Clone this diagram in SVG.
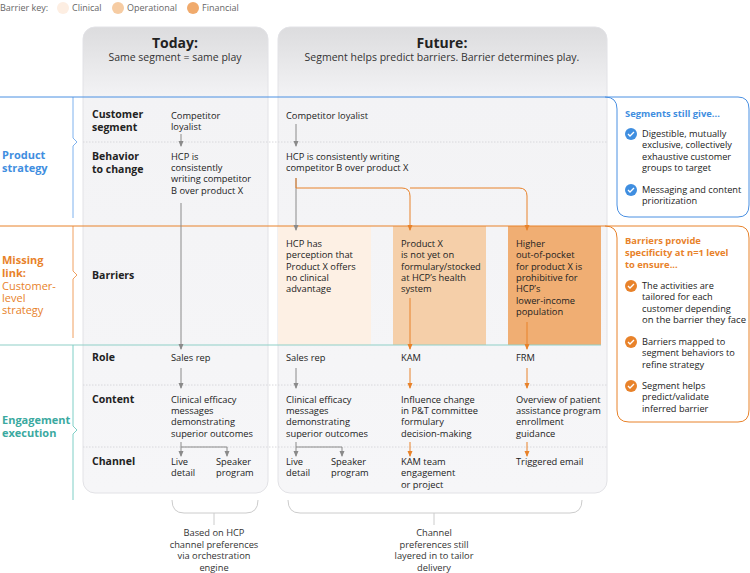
<svg xmlns="http://www.w3.org/2000/svg" width="750" height="573" viewBox="0 0 750 573">
<defs>
<linearGradient id="pg" x1="0" y1="0" x2="0" y2="1"><stop offset="0" stop-color="#dcdcde"/><stop offset="0.15" stop-color="#f3f3f5"/><stop offset="1" stop-color="#f6f6f8"/></linearGradient>
<marker id="g" markerWidth="6" markerHeight="6" refX="5" refY="3" orient="auto" markerUnits="userSpaceOnUse"><path d="M0,0.5 L6,3 L0,5.5 Z" fill="#8a8a8a"/></marker>
<marker id="o" markerWidth="6" markerHeight="6" refX="5" refY="3" orient="auto" markerUnits="userSpaceOnUse"><path d="M0,0.5 L6,3 L0,5.5 Z" fill="#e8822a"/></marker>
</defs>
<style>
text{font-family:"Open Sans","Noto Sans","Liberation Sans",sans-serif;font-size:9.3px;fill:#222}
.k{fill:#666;font-size:9px}
.h{font-weight:bold;font-size:14px;text-anchor:middle}
.s{font-size:10.5px;text-anchor:middle;fill:#333}
.rl{font-weight:bold;font-size:10.5px}
.gl{stroke:#8a8a8a;stroke-width:1;fill:none}
.ol{stroke:#e8822a;stroke-width:1;fill:none}
.dot{stroke:#d8d8dc;stroke-width:1;stroke-dasharray:1.5 1.5}
.c{text-anchor:middle;fill:#333}
.bl{fill:#3f8ee0;font-weight:bold;font-size:11px}
.or{fill:#e8822a;font-weight:bold;font-size:11px}
.orn{fill:#e8822a;font-size:11px}
.te{fill:#3aa9a0;font-weight:bold;font-size:11px}
.sd{font-size:9.2px}
.hd{font-size:9.4px}
</style>
<g id="key">
<text x="0" y="11" class="k">Barrier key:</text>
<circle cx="63" cy="8" r="6" fill="#fdeee2"/><text x="72" y="11" class="k">Clinical</text>
<circle cx="118" cy="8" r="6" fill="#f6cca3"/><text x="127" y="11" class="k">Operational</text>
<circle cx="193" cy="8" r="6" fill="#f0aa6c"/><text x="202" y="11" class="k">Financial</text>
</g>
<g id="panel-today">
<rect x="83" y="27" width="185" height="466" rx="12" fill="url(#pg)" stroke="#e2e2e6"/>
<text x="175" y="48" class="h">Today:</text>
<text x="175" y="61" class="s">Same segment = same play</text>
</g>
<g id="panel-future">
<rect x="278" y="27" width="329" height="466" rx="12" fill="url(#pg)" stroke="#e2e2e6"/>
<text x="442" y="48" class="h">Future:</text>
<text x="442" y="61" class="s">Segment helps predict barriers. Barrier determines play.</text>
</g>
<g id="barriers">
<rect x="278" y="226" width="93" height="119" fill="#fdf0e4"/>
<rect x="393" y="226" width="93" height="119" fill="#f5cfa9"/>
<rect x="508" y="226" width="93" height="119" fill="#f0ae73"/>
</g>
<g id="rows">
<line x1="83" y1="142" x2="607" y2="142" class="dot"/>
<line x1="83" y1="385" x2="607" y2="385" class="dot"/>
<line x1="83" y1="447" x2="607" y2="447" class="dot"/>
<line x1="0" y1="345" x2="601" y2="345" stroke="#8fd0c8" stroke-width="1.2"/>
<path d="M73,97 V138 L77,142 L73,146 V218" stroke="#7fb2ee" fill="none"/>
<path d="M73,226 V271 L77,275 L73,279 V338" stroke="#f0a060" fill="none"/>
<path d="M73,345 V426 L77,430 L73,434 V500" stroke="#7fcfc6" fill="none"/>
<text x="2" y="159" class="bl">Product</text><text x="2" y="172" class="bl">strategy</text>
<text x="2" y="264" class="or">Missing</text><text x="2" y="277" class="or">link:</text>
<text x="2" y="290" class="orn">Customer-</text><text x="2" y="302" class="orn">level</text><text x="2" y="314" class="orn">strategy</text>
<text x="2" y="424" class="te">Engagement</text><text x="2" y="437" class="te">execution</text>
<text x="92" y="118" class="rl">Customer</text><text x="92" y="131" class="rl">segment</text>
<text x="92" y="160" class="rl">Behavior</text><text x="92" y="173" class="rl">to change</text>
<text x="92" y="279" class="rl">Barriers</text>
<text x="92" y="361" class="rl">Role</text>
<text x="92" y="403" class="rl">Content</text>
<text x="92" y="465" class="rl">Channel</text>
</g>
<g id="side-blue">
<path d="M0,97 H605 Q617,97 617,109 V205 Q617,217 629,217 H738 Q749,217 749,205 V109 Q749,97 738,97 H605" stroke="#4a90e2" stroke-width="1" fill="none"/>
<text x="625" y="117" class="bl hd">Segments still give...</text>
<circle cx="631" cy="134" r="6" fill="#3f8ee0"/><path d="M628,134 l2,2 l4,-4" stroke="#fff" stroke-width="1.3" fill="none"/>
<text x="642" y="137" class="sd">Digestible, mutually</text><text x="642" y="148" class="sd">exclusive, collectively</text><text x="642" y="160" class="sd">exhaustive customer</text><text x="642" y="171" class="sd">groups to target</text>
<circle cx="631" cy="190" r="6" fill="#3f8ee0"/><path d="M628,190 l2,2 l4,-4" stroke="#fff" stroke-width="1.3" fill="none"/>
<text x="642" y="193" class="sd">Messaging and content</text><text x="642" y="204" class="sd">prioritization</text>
</g>
<g id="side-orange">
<path d="M0,226 H605 Q617,226 617,238 V410 Q617,422 629,422 H738 Q749,422 749,410 V238 Q749,226 738,226 H605" stroke="#e8822a" stroke-width="1" fill="none"/>
<text x="625" y="244" class="or hd">Barriers provide</text><text x="625" y="256" class="or hd">specificity at n=1 level</text><text x="625" y="268" class="or hd">to ensure...</text>
<circle cx="631" cy="286" r="6" fill="#e8822a"/><path d="M628,286 l2,2 l4,-4" stroke="#fff" stroke-width="1.3" fill="none"/>
<text x="642" y="289" class="sd">The activities are</text><text x="642" y="300" class="sd">tailored for each</text><text x="642" y="312" class="sd">customer depending</text><text x="642" y="323" class="sd" textLength="104" lengthAdjust="spacingAndGlyphs">on the barrier they face</text>
<circle cx="631" cy="342" r="6" fill="#e8822a"/><path d="M628,342 l2,2 l4,-4" stroke="#fff" stroke-width="1.3" fill="none"/>
<text x="642" y="345" class="sd">Barriers mapped to</text><text x="642" y="356" class="sd">segment behaviors to</text><text x="642" y="368" class="sd">refine strategy</text>
<circle cx="631" cy="386" r="6" fill="#e8822a"/><path d="M628,386 l2,2 l4,-4" stroke="#fff" stroke-width="1.3" fill="none"/>
<text x="642" y="389" class="sd">Segment helps</text><text x="642" y="400" class="sd">predict/validate</text><text x="642" y="412" class="sd">inferred barrier</text>
</g>
<g id="today-texts">
<text x="171" y="119">Competitor</text><text x="171" y="130">loyalist</text>
<text x="171" y="160">HCP is</text><text x="171" y="171">consistently</text><text x="171" y="182">writing competitor</text><text x="171" y="194">B over product X</text>
<text x="171" y="361">Sales rep</text>
<text x="171" y="403">Clinical efficacy</text><text x="171" y="414">messages</text><text x="171" y="425">demonstrating</text><text x="171" y="437">superior outcomes</text>
<text x="171" y="465">Live</text><text x="171" y="476">detail</text>
<text x="216" y="465">Speaker</text><text x="216" y="476">program</text>
</g>
<g id="future-texts">
<text x="286" y="119">Competitor loyalist</text>
<text x="286" y="160">HCP is consistently writing</text><text x="286" y="171">competitor B over product X</text>
<text x="286" y="247">HCP has</text><text x="286" y="258">perception that</text><text x="286" y="270">Product X offers</text><text x="286" y="281">no clinical</text><text x="286" y="292">advantage</text>
<text x="401" y="247">Product X</text><text x="401" y="258">is not yet on</text><text x="401" y="270">formulary/stocked</text><text x="401" y="281">at HCP’s health</text><text x="401" y="292">system</text>
<text x="516" y="247">Higher</text><text x="516" y="258">out-of-pocket</text><text x="516" y="270">for product X is</text><text x="516" y="281">prohibitive for</text><text x="516" y="292">HCP’s</text><text x="516" y="304">lower-income</text><text x="516" y="315">population</text>
<text x="286" y="361">Sales rep</text><text x="401" y="361">KAM</text><text x="516" y="361">FRM</text>
<text x="286" y="403">Clinical efficacy</text><text x="286" y="414">messages</text><text x="286" y="425">demonstrating</text><text x="286" y="437">superior outcomes</text>
<text x="401" y="403">Influence change</text><text x="401" y="414">in P&amp;T committee</text><text x="401" y="425">formulary</text><text x="401" y="437">decision-making</text>
<text x="516" y="403">Overview of patient</text><text x="516" y="414">assistance program</text><text x="516" y="425">enrollment</text><text x="516" y="437">guidance</text>
<text x="286" y="465">Live</text><text x="286" y="476">detail</text>
<text x="331" y="465">Speaker</text><text x="331" y="476">program</text>
<text x="401" y="465">KAM team</text><text x="401" y="476">engagement</text><text x="401" y="488">or project</text>
<text x="516" y="465">Triggered email</text>
</g>
<g id="connectors">
<line x1="181" y1="134" x2="181" y2="146" class="gl" marker-end="url(#g)"/>
<line x1="181" y1="203" x2="181" y2="349" class="gl" marker-end="url(#g)"/>
<line x1="181" y1="368" x2="181" y2="388" class="gl" marker-end="url(#g)"/>
<path d="M181,442 V447 H227" class="gl"/>
<line x1="181" y1="447" x2="181" y2="456" class="gl" marker-end="url(#g)"/>
<line x1="227" y1="447" x2="227" y2="456" class="gl" marker-end="url(#g)"/>
<line x1="296" y1="124" x2="296" y2="146" class="gl" marker-end="url(#g)"/>
<line x1="296" y1="178" x2="296" y2="230" class="gl" marker-end="url(#g)"/>
<line x1="296" y1="368" x2="296" y2="388" class="gl" marker-end="url(#g)"/>
<path d="M296,442 V447 H342" class="gl"/>
<line x1="296" y1="447" x2="296" y2="456" class="gl" marker-end="url(#g)"/>
<line x1="342" y1="447" x2="342" y2="456" class="gl" marker-end="url(#g)"/>
<path d="M296,178 V188 H402 Q410,188 410,196 V230" class="ol" marker-end="url(#o)"/>
<path d="M410,188 H519 Q527,188 527,196 V230" class="ol" marker-end="url(#o)"/>
<line x1="410" y1="298" x2="410" y2="349" class="ol" marker-end="url(#o)"/>
<line x1="527" y1="322" x2="527" y2="349" class="ol" marker-end="url(#o)"/>
<line x1="410" y1="368" x2="410" y2="388" class="ol" marker-end="url(#o)"/>
<line x1="527" y1="368" x2="527" y2="388" class="ol" marker-end="url(#o)"/>
<line x1="410" y1="442" x2="410" y2="456" class="ol" marker-end="url(#o)"/>
<line x1="527" y1="442" x2="527" y2="456" class="ol" marker-end="url(#o)"/>
</g>
<g id="braces">
<path d="M172,500 Q172,513 184,513 H246 Q258,513 258,500 M214,513 V525" stroke="#ccc" fill="none"/>
<path d="M288,500 Q288,513 300,513 H570 Q582,513 582,500 M434,513 V525" stroke="#ccc" fill="none"/>
<text x="214" y="536" class="c">Based on HCP</text><text x="214" y="548" class="c">channel preferences</text><text x="214" y="559" class="c">via orchestration</text><text x="214" y="571" class="c">engine</text>
<text x="434" y="536" class="c">Channel</text><text x="434" y="548" class="c">preferences still</text><text x="434" y="559" class="c">layered in to tailor</text><text x="434" y="571" class="c">delivery</text>
</g>
</svg>
